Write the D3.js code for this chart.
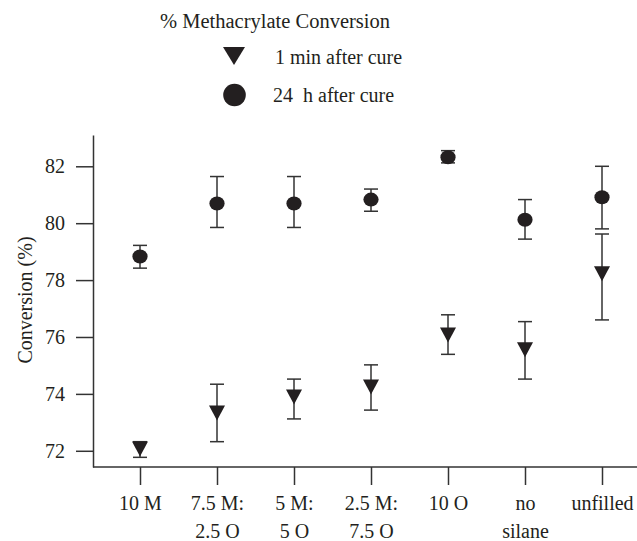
<!DOCTYPE html>
<html><head><meta charset="utf-8">
<script src="https://cdn.jsdelivr.net/npm/d3@7"></script>
<style>body{margin:0;background:#fff}svg text{font-family:"Liberation Serif","Times New Roman",serif !important;fill:#231f20}</style>
</head><body>
<svg id="c" width="637" height="541" font-family="Liberation Serif, serif"></svg>
<script>
const categories = [["10 M"],["7.5 M:","2.5 O"],["5 M:","5 O"],["2.5 M:","7.5 O"],["10 O"],["no","silane"],["unfilled"]];
const min1 = [72.06, 73.33, 73.89, 74.24, 76.07, 75.55, 78.22];
const min1Hi = [72.32, 74.34, 74.52, 75.02, 76.78, 76.54, 79.62];
const min1Lo = [71.77, 72.32, 73.12, 73.43, 75.39, 74.52, 76.60];
const h24 = [78.83, 80.69, 80.69, 80.83, 82.32, 80.12, 80.91];
const h24Hi = [79.22, 81.64, 81.64, 81.20, 82.55, 80.83, 82.00];
const h24Lo = [78.42, 79.85, 79.85, 80.42, 82.12, 79.44, 79.80];
const yTicks = [72, 74, 76, 78, 80, 82];
const legendTitle = "% Methacrylate Conversion";
const seriesNames = ["1 min after cure", "24\u00a0 h after cure"];
const yLabel = "Conversion (%)";

const svg = d3.select("#c");
const ink = "#231f20", lineCol = "#333";
const keys = categories.map((c,i)=>i);
const x = d3.scalePoint().domain(keys).range([140, 602]);
const y = d3.scaleLinear().domain([71.43, 83.1]).range([467, 135]);

// y axis
const ya = svg.append("g").attr("transform","translate(93,0)")
  .call(d3.axisLeft(y).tickValues(yTicks).tickSize(17).tickSizeOuter(0).tickPadding(11).tickFormat(d3.format("d")))
  .attr("font-family","Liberation Serif, serif");
ya.select(".domain").attr("stroke", lineCol).attr("stroke-width",1.5);
ya.selectAll(".tick line").attr("stroke", lineCol).attr("stroke-width",1.5);
ya.selectAll(".tick text").attr("font-size",20).attr("fill",ink);

// x axis
const xa = svg.append("g").attr("transform","translate(0,467)")
  .call(d3.axisBottom(x).tickSize(18).tickSizeOuter(0).tickFormat(""))
  .attr("font-family","Liberation Serif, serif");
xa.select(".domain").remove();
xa.append("line").attr("x1",93).attr("x2",637).attr("y1",0).attr("y2",0).attr("stroke",lineCol).attr("stroke-width",1.5);
xa.selectAll(".tick line").attr("stroke", lineCol).attr("stroke-width",1.5);
xa.selectAll(".tick").each(function(d){
  const t = d3.select(this).append("text").attr("text-anchor","middle").attr("font-size",20).attr("fill",ink);
  categories[d].forEach((s,j)=>t.append("tspan").attr("x",0).attr("y",43+j*28).text(s));
});

// y label
svg.append("text").attr("transform","translate(32,300) rotate(-90)").attr("text-anchor","middle")
  .attr("font-size",20).text(yLabel);

// error bars
function errbars(lo, hi){
  const g = svg.append("g").attr("stroke", lineCol).attr("stroke-width",1.5);
  keys.forEach(i=>{
    g.append("line").attr("x1",x(i)).attr("x2",x(i)).attr("y1",y(lo[i])).attr("y2",y(hi[i]));
    [lo[i],hi[i]].forEach(v=>g.append("line").attr("x1",x(i)-7).attr("x2",x(i)+7).attr("y1",y(v)).attr("y2",y(v)));
  });
}
errbars(h24Lo, h24Hi);
errbars(min1Lo, min1Hi);

const tri = (cx,cy,w,h)=>`M${cx-w/2},${cy-h/2}L${cx+w/2},${cy-h/2}L${cx},${cy+h/2}Z`;
svg.append("g").selectAll("path").data(keys).join("path")
  .attr("d", i=>tri(x(i), y(min1[i]), 16, 15)).attr("fill", ink);
svg.append("g").selectAll("ellipse").data(keys).join("ellipse")
  .attr("cx", i=>x(i)).attr("cy", i=>y(h24[i])).attr("rx",7.6).attr("ry",7).attr("fill", ink);

// legend
const lg = svg.append("g");
lg.append("text").attr("x",160).attr("y",28).attr("font-size",20.5).text(legendTitle);
lg.append("path").attr("d", tri(234, 56, 22, 18)).attr("fill", ink);
lg.append("text").attr("x",275).attr("y",64).attr("font-size",20).text(seriesNames[0]);
lg.append("circle").attr("cx",234.5).attr("cy",95).attr("r",11.3).attr("fill", ink);
lg.append("text").attr("x",273).attr("y",102).attr("font-size",20).style("white-space","pre").text(seriesNames[1]);
</script>
</body></html>
